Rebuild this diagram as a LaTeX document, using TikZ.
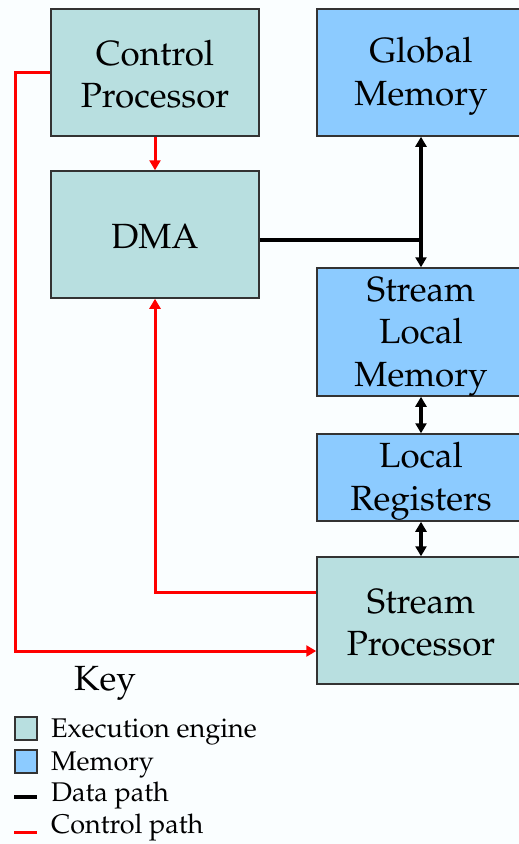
\documentclass[tikz,border=0pt]{standalone}
\usepackage[T1]{fontenc}
\usepackage{mathpazo}
\usetikzlibrary{arrows.meta}

\definecolor{pagebg}{HTML}{FAFEFF}
\definecolor{execfill}{HTML}{B8DFE0}
\definecolor{memfill}{HTML}{8CCBFF}
\definecolor{boxline}{HTML}{333333}
\definecolor{ctlred}{HTML}{FF0000}

% fixed-size strut so every line of box text sits on the same grid
\newcommand{\ls}{\rule[-4.7pt]{0pt}{37.8pt}}

\tikzset{
  unitbox/.style={draw=boxline, line width=1.5pt, inner sep=0pt,
    minimum width=208pt, align=center,
    font=\fontsize{35}{42.5}\selectfont},
  execbox/.style={unitbox, fill=execfill},
  membox/.style={unitbox, fill=memfill},
  ctlpath/.style={draw=ctlred, line width=3pt,
    -{Triangle[width=11pt,length=10pt]}},
  datapath/.style={draw=black, line width=4pt},
  datalink/.style={datapath,
    {Triangle[width=11pt,length=10pt]}-{Triangle[width=11pt,length=10pt]}},
  keytext/.style={anchor=base west, inner sep=0pt,
    font=\fontsize{27}{31}\selectfont},
  keybox/.style={draw=boxline, line width=1.5pt, minimum width=22pt,
    minimum height=23pt, inner sep=0pt}
}

\begin{document}
\begin{tikzpicture}[x=1pt, y=-1pt]
  \fill[pagebg] (0,0) rectangle (519,844);
  \useasboundingbox (0,0) rectangle (519,844);

  % processing and memory blocks
  \node[execbox, minimum height=127pt] (cp)  at (155,72.5)  {\ls Control\\\ls Processor};
  \node[membox,  minimum height=127pt] (gm)  at (421,72.5)  {\ls Global\\\ls Memory};
  \node[execbox, minimum height=127pt] (dma) at (155,234.5) {\ls DMA};
  \node[membox,  minimum height=128pt] (slm) at (421,332)   {\ls Stream\\\ls Local\\\ls Memory};
  \node[membox,  minimum height=87pt]  (lr)  at (421,477.5) {\ls Local\\\ls Registers};
  \node[execbox, minimum height=127pt] (sp)  at (421,620.5) {\ls Stream\\\ls Processor};

  % routing points
  \coordinate (junc) at (421,240);
  \coordinate (cpdown) at (15,651);
  \coordinate (spback) at (155,592);

  % data paths
  \draw[datapath] (dma.east |- junc) -- (junc);
  \draw[datalink] (gm.south) -- (slm.north);
  \draw[datalink] (slm.south) -- (lr.north);
  \draw[datalink] (lr.south) -- (sp.north);

  % control paths
  \draw[ctlpath] (cp.south) -- (dma.north);
  \draw[ctlpath] (cp.west) -| (cpdown) -- (cpdown -| sp.west);
  \draw[ctlpath] (spback -| sp.west) -- (spback) -- (dma.south);

  % key
  \node[inner sep=0pt, anchor=base, font=\fontsize{35}{40}\selectfont] (keyttl) at (105,690) {Key};
  \node[keybox, fill=execfill] (kexec) at (26,728.5) {};
  \node[keybox, fill=memfill]  (kmem)  at (26,761.5) {};
  \coordinate (kdata) at (14,797);
  \coordinate (kctl)  at (14,832);
  \draw[black, line width=4pt] (kdata) -- ++(23,0);
  \draw[ctlred, line width=3pt] (kctl) -- ++(23,0);
  \node[keytext] (lexec) at (51,737) {Execution engine};
  \node[keytext] (lmem)  at (51,770) {Memory};
  \node[keytext] (ldata) at (51,801) {Data path};
  \node[keytext] (lctl)  at (51,833) {Control path};
\end{tikzpicture}
\end{document}
